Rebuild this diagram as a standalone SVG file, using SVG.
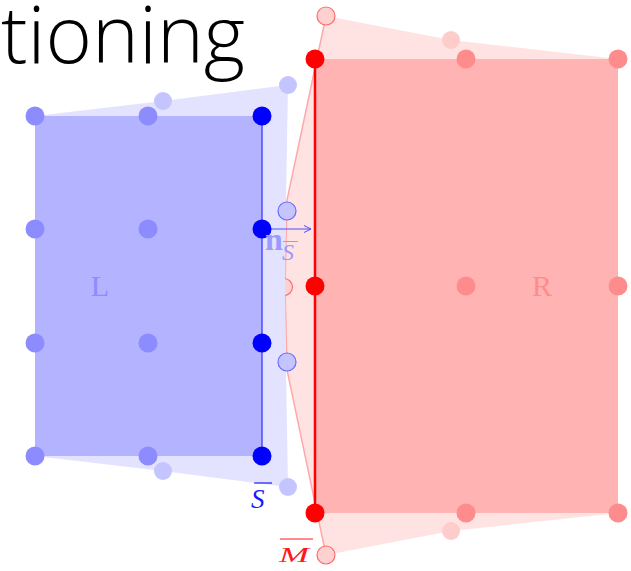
<svg xmlns="http://www.w3.org/2000/svg" width="631" height="571" viewBox="0 0 631 571">
<style>
.title{font-family:"Open Sans","Liberation Sans",Arial,sans-serif;font-size:80px;font-weight:300;fill:#000}
.serif{font-family:"Liberation Serif","DejaVu Serif",serif}
.lb{fill:#8c8cff}.lr{fill:#ff8c8c}
.pb{fill:#c4c4ff}.pr{fill:#ffcccc}
.pbo{fill:#c4c4ff;stroke:#6b6bff;stroke-width:1.2}
.pro{fill:#ffd0d0;stroke:#ff6b6b;stroke-width:1.2}
.db{fill:#0000ff}.dr{fill:#ff0000}
</style>
<defs>
<marker id="arr" markerWidth="10" markerHeight="10" refX="8" refY="4" orient="auto" markerUnits="userSpaceOnUse">
<path d="M1,0.5 L8,4 L1,7.5" fill="none" stroke="#4d4dff" stroke-width="1"/>
</marker>
</defs>
<rect width="631" height="571" fill="#fff"/>
<text class="title" x="1" y="63" textLength="244" lengthAdjust="spacingAndGlyphs">tioning</text>

<g id="R-deformed">
<polygon points="326,16 451,40 618,59 618,513 451,531 326,555 287,370 285,286 287,200" fill="#ffe3e3"/>
<polyline points="326,16 287,200 285,286 287,370 326,555" fill="none" stroke="#ffa8a8" stroke-width="1.5"/>
<circle class="pro" cx="284" cy="287" r="8.5"/>
</g>
<g id="L-deformed">
<polygon points="35,116 163,101 288,85 286,200 285,286 286,370 288,487 163,471 35,456" fill="#e3e3ff"/>
</g>
<g id="L">
<rect x="35" y="116" width="227" height="340" fill="#b3b3ff"/>
<text class="serif lb" x="100" y="296" font-size="30" text-anchor="middle">L</text>
</g>
<g id="R">
<rect x="315" y="59" width="303" height="454" fill="#ffb3b3"/>
<text class="serif lr" x="542" y="296" font-size="30" text-anchor="middle">R</text>
</g>
<g id="connectors">
<line x1="262" y1="116" x2="262" y2="456" stroke="#4d4dff" stroke-width="1.5"/>
<line x1="315" y1="59" x2="315" y2="513" stroke="#ff0000" stroke-width="2.5"/>
<line x1="262" y1="229" x2="311" y2="229" stroke="#4d4dff" stroke-width="1" marker-end="url(#arr)"/>
</g>
<g id="L-nodes">
<circle class="lb" cx="35" cy="116" r="9.5"/><circle class="lb" cx="148" cy="116" r="9.5"/>
<circle class="lb" cx="35" cy="229" r="9.5"/><circle class="lb" cx="148" cy="229" r="9.5"/>
<circle class="lb" cx="35" cy="343" r="9.5"/><circle class="lb" cx="148" cy="343" r="9.5"/>
<circle class="lb" cx="35" cy="456" r="9.5"/><circle class="lb" cx="148" cy="456" r="9.5"/>
<circle class="pb" cx="163" cy="101" r="9"/><circle class="pb" cx="288" cy="85" r="9"/>
<circle class="pbo" cx="287" cy="211" r="9"/><circle class="pbo" cx="287" cy="362" r="9"/>
<circle class="pb" cx="163" cy="471" r="9"/><circle class="pb" cx="288" cy="487" r="9"/>
<circle class="db" cx="262" cy="116" r="9.5"/><circle class="db" cx="262" cy="229" r="9.5"/>
<circle class="db" cx="262" cy="343" r="9.5"/><circle class="db" cx="262" cy="456" r="9.5"/>
</g>
<g id="R-nodes">
<circle class="pro" cx="326" cy="16" r="9"/><circle class="pr" cx="451" cy="40" r="9"/>
<circle class="pr" cx="451" cy="531" r="9"/><circle class="pro" cx="326" cy="555" r="9"/>
<circle class="lr" cx="466" cy="59" r="9.5"/><circle class="lr" cx="618" cy="59" r="9.5"/>
<circle class="lr" cx="466" cy="286" r="9.5"/><circle class="lr" cx="618" cy="286" r="9.5"/>
<circle class="lr" cx="466" cy="513" r="9.5"/><circle class="lr" cx="618" cy="513" r="9.5"/>
<circle class="dr" cx="315" cy="59" r="9.5"/><circle class="dr" cx="315" cy="286" r="9.5"/>
<circle class="dr" cx="315" cy="513" r="9.5"/>
</g>
<g id="labels">
<text class="serif" x="265" y="250" font-size="32" font-weight="bold" fill="#9a9aff">n</text>
<text class="serif" x="282" y="260" font-size="24" font-style="italic" fill="#9a9aff">S</text>
<line x1="283" y1="241.5" x2="298" y2="241.5" stroke="#9a9aff" stroke-width="1"/>
<text class="serif" x="251" y="508" font-size="27" font-style="italic" fill="#1a1aff">S</text>
<line x1="254" y1="483" x2="272" y2="483" stroke="#1a1aff" stroke-width="1.2"/>
<text class="serif" x="279" y="562" font-size="22" font-style="italic" fill="#ff1a1a" textLength="30" lengthAdjust="spacingAndGlyphs">M</text>
<line x1="280" y1="539" x2="313" y2="539" stroke="#ff1a1a" stroke-width="1.2"/>
</g>
</svg>
